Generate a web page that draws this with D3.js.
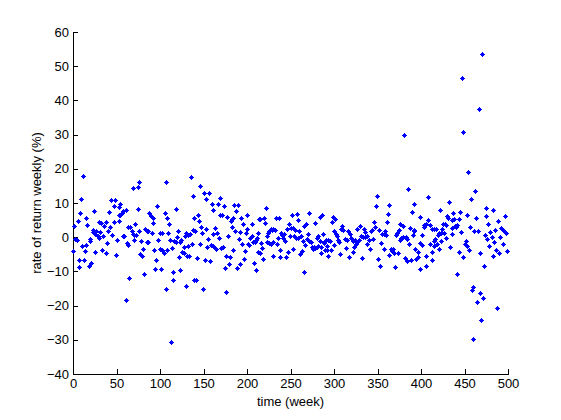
<!DOCTYPE html>
<html><head><meta charset="utf-8">
<script src="https://cdn.jsdelivr.net/npm/d3@7"></script>
<style>
html,body{margin:0;padding:0;background:#fff;}
text{font-family:"Liberation Sans Narrow","Arial Narrow","Liberation Sans",Arial,sans-serif;}
</style></head>
<body>
<svg id="chart" width="561" height="420"></svg>
<script>
const xTicks = [0,50,100,150,200,250,300,350,400,450,500];
const yTicks = [-40,-30,-20,-10,0,10,20,30,40,50,60];
const xLabel = "time (week)";
const yLabel = "rate of return weekly (%)";

// weeks and weekly returns (%)
const weeks = [
11.5,9.5,8.4,6.1,1.1,2.7,5,0.4,10.3,15,15.3,16.4,14.1,7.3,13,7.3,18,21,19.5,19,22.5,23.3,24.5,25.6,25,27,29.8,31.3,28.7,29.5,32,33.3,34.8,36,38.2,38.3,39,40.5,41.7,42.4,43.6,45,47.4,47,48.5,50,49.3,52.8,53,54.3,52.4,54.3,56.7,58,60.4,57,58.8,63,62,63.5,64.6,61,
69.2,74.9,76,74.2,71.5,70.3,66,67.3,68.5,70.6,72.5,75.7,78.3,80.6,77.2,79.5,81.8,82.9,84.9,86.4,84.5,86.4,87.2,89.4,91.7,92,90.9,96.7,93,95.5,94.4,101.3,98.2,100.2,102,100.2,102.4,104.7,105.8,108.1,107,110.4,109.3,108.1,111.6,113.9,115,115,107,112.7,118.5,116.2,118.5,119.6,120.8,123,124.2,121.9,123,125.3,127.6,127.6,132.2,128.8,129.9,132.2,134.5,129.9,130.7,133.4,136.8,135.7,138,138.8,138.4,139.1,
143.7,144.8,140.3,142.6,141,149.5,146,150.6,156.3,152.9,147.1,152.9,148.3,146,151.7,157.5,155.2,154,158.6,160.9,163.2,164.3,159.7,160.9,166.6,168.9,173.5,160.9,163.2,165.5,167.8,168.9,171.2,170,172.4,175.8,180.4,174.7,179.2,175.8,177,178.1,181.5,182.7,183.8,182.7,183.8,185,189.6,187.3,186.1,188.4,190.7,191.9,191.9,193,194.2,195.3,196.4,197.6,198.7,199.9,199.9,201,202.2,203.3,205.6,205.6,206.8,209.1,207.9,210.2,211.4,212.5,212.5,213.6,
210.2,214.8,219.4,220.5,221.7,214.8,216,217.1,218.2,222.8,224,225.1,226.3,227.4,228.6,229.7,232,222.8,225.1,227.4,229.7,234.3,229.7,233.1,236.6,235.4,237.7,237.7,238.9,240,241.2,242.3,243.5,244.6,245.8,246.9,248,249.2,250.3,252.6,254.9,251.5,257.2,258.4,252.6,253.8,256.1,258.4,259.5,261.8,260.7,263,265.3,264.1,265.3,267.5,266.4,268.7,269.8,271,271,273.3,274.4,275.6,276.7,277.9,280.2,281.3,277.9,280.2,281.3,283.6,283.6,285.9,284.7,287,288.2,
284.7,288.2,290.5,292.8,295.1,291.6,289.3,291.6,296.2,292.8,298.5,300.8,297.4,299.7,299.7,302,303.1,304.2,305.4,306.5,307.7,308.8,310,312.3,314.6,313.4,315.7,318,316.9,319.2,321.5,323.8,326.1,328.4,322.7,325,321.5,326.1,329.5,330.6,332.9,335.2,337.5,331.8,334.1,335.2,337.5,339.8,340.9,342.1,343.2,344.4,345.5,346.7,349,347.8,351.3,350.1,352.4,353.6,354.7,357,358.1,357,359.3,360.4,361.6,362.7,362.7,
380,384.5,408.6,391.4,389.1,432.7,399.4,407.5,422.4,430.4,431.5,436.1,437.3,375.3,378.8,374.2,371.9,370.8,376.5,375.3,378.8,382.2,383.4,386.8,390.3,391.4,392.5,385.7,401.7,399.4,400.6,402.9,404,406.3,409.8,412.1,414.4,417.8,409.8,414.4,415.5,416.6,418.9,420.1,421.2,423.5,427,424.7,425.8,428.1,429.3,423.5,429.3,421.2,433.8,436.1,436.1,366.2,367.3,365,368.5,373.1,369.6,381.1,383.4,388,394.8,396,393.5,397.1,398.3,405.2,406.3,412.1,413.2,
470.5,447.6,467.1,448.7,454.5,462.5,457.9,445.3,453.3,463.6,438.5,444.2,439.6,441.9,440.7,446.4,456.8,461.3,465.9,452.2,451,453.3,455.6,444.2,448.7,441.9,468.2,472.8,460.2,459.1,468.2,471.7,464.8,487.7,469.4,460.2,475.1,483.1,496.9,475.1,477.4,488.9,474,476.3,479.7,482.1,485.4,478.6,484.3,486.6,490,483.1,491.2,492.3,494.6,495.8,498.1,494.6,499.2
];
const returns = [
17.9,11.1,7.1,4.6,3.2,-0.5,-0.9,-4.0,-2.7,-2.4,5.5,3.5,-4.0,-6.7,-6.7,-8.8,-8.5,-7.6,-1.1,-0.4,2.2,1.5,7.8,-4.3,1.0,1.7,4.5,1.6,0.3,-0.2,4.2,-3.6,0.3,3.4,-4.7,4.3,-1.8,1.7,7.3,3.1,10.8,0.5,4.4,9.1,10.8,-0.9,-5.3,4.6,8.7,9.6,6.4,6.5,7.0,7.6,7.9,0.3,0.3,2.9,-1.8,-2.4,-11.9,-18.5,
14.3,14.6,16.0,8.2,3.8,-0.9,2.9,1.8,1.0,0.7,0.5,1.7,-1.2,-3.5,-5.0,-5.6,-10.9,2.3,1.9,1.7,-1.5,-1.5,7.0,6.3,5.6,4.1,1.1,9.0,-3.8,-6.8,-9.4,-9.4,-0.9,1.1,1.3,-3.5,-3.8,-4.7,7.2,5.7,16.0,3.8,1.2,-3.8,-0.9,-3.2,-10.1,-12.6,-15.0,-30.7,8.2,-1.2,-1.5,0,1.7,-1.5,-0.9,-5.9,-9.7,-4.4,-4.7,-3.0,-2.7,0.3,1.1,0.7,0.8,-14.4,-5.6,-5.6,-2.1,17.5,12.0,5.5,2.0,-12.5,
6.4,4.6,1.7,-6.2,-12.6,-15.0,15.0,12.8,12.8,11.1,2.9,2.3,1.1,-2.1,-6.8,-7.0,-0.6,-3.0,-2.4,-2.7,-3.2,-3.5,9.7,7.9,9.7,11.4,9.0,0.8,2.6,1.1,-0.3,6.4,6.4,-3.2,-3.0,-5.6,-5.9,-9.1,-7.9,-16.1,5.8,0.3,4.6,5.2,5.5,2.9,-3.8,9.3,9.3,7.6,1.7,-9.1,-0.6,1.4,-7.9,5.5,-2.1,3.8,-6.5,-4.1,1.1,2.3,6.4,-2.1,-2.4,-0.3,0.3,3.8,-1.5,-1.5,-7.6,-9.7,-0.3,1.1,-4.4,5.2,
-0.9,5.2,5.5,4.1,8.4,-4.7,-1.8,-3.2,-6.5,0.3,1.1,1.7,2.0,2.3,2.0,2.3,2.0,-1.5,-1.8,-2.1,-1.5,-2.1,-5.6,5.5,5.5,-0.3,-3.8,-5.9,1.1,0.5,-0.1,0.8,-1.2,-5.9,2.3,-4.4,3.8,0.3,2.6,2.6,2.0,6.4,6.7,4.9,-3.5,0.3,-0.3,-0.3,1.7,0.3,-5.0,-4.1,-10.3,-1.2,3.2,3.8,-2.4,-0.6,0.8,7.0,-1.2,-1.5,-3.0,-3.5,-3.0,-3.2,-3.0,-2.7,4.1,-0.3,0.3,-1.2,5.8,6.4,-4.7,0.8,-1.8,
-3.0,-1.5,-0.9,-0.9,-1.2,-2.7,-3.8,-3.8,-3.8,-5.6,5.8,5.2,4.3,-2.4,1.7,0.8,0.3,-0.9,-1.5,-5.0,2.3,3.2,2.0,-0.6,-0.9,-3.2,1.7,0.8,-5.9,-0.3,-1.2,-0.9,-1.5,-0.9,-3.0,-2.1,-4.4,2.3,3.2,0.3,0,0,0.3,-6.2,2.3,1.4,-2.1,-0.9,-3.5,1.7,2.0,-0.6,4.3,2.9,12.0,9.0,2.0,-6.5,-8.5,-1.8,0.8,0.8,1.7,-3.5,0.5,4.3,6.7,9.3,-5.3,
29.8,14.0,11.7,9.6,7.3,10.2,5.8,4.9,7.9,6.1,5.5,4.9,7.0,3.8,3.2,2.0,1.1,0.5,-0.3,-0.9,0,0,-0.6,2.6,0.5,1.7,2.0,-2.1,0.5,-1.8,-2.4,2.9,3.5,3.8,3.5,2.3,2.3,2.3,-2.1,-2.7,-1.2,-0.6,-2.1,0.5,1.1,1.1,1.1,2.3,3.8,3.8,3.5,-1.2,-0.3,-3.5,-3.0,0.8,2.6,-4.1,-3.5,-3.5,-4.7,-4.7,-8.8,-6.2,-7.0,-6.8,-6.5,-5.9,-3.5,-4.4,-9.4,-8.5,-5.6,-4.4,-6.8,
53.5,46.5,37.4,30.7,19.0,13.4,11.1,7.3,6.4,5.5,5.2,5.2,3.2,3.5,2.9,1.4,2.9,1.7,1.7,-1.2,-2.1,-2.7,-3.8,-4.4,-5.9,-10.8,-4.7,-8.5,-14.7,-15.5,-16.4,-17.9,-19.0,-20.8,-24.3,-29.9,8.4,7.9,6.1,6.1,3.8,4.6,0.5,-0.6,1.4,0,2.0,-2.7,-1.5,-3.8,-4.7,-5.6,0,2.6,2.0,1.7,1.1,-2.1,-4.1
];

const svg = d3.select("#chart");
const x = d3.scaleLinear().domain([0,500]).range([73,508]);
const y = d3.scaleLinear().domain([-40,60]).range([374,32]);

const fs = 13;
const gx = svg.append("g").attr("transform","translate(0,374)")
  .call(d3.axisBottom(x).tickValues(xTicks).tickFormat(d3.format("d")).tickSizeInner(-5).tickSizeOuter(0).tickPadding(5));
const gy = svg.append("g").attr("transform","translate(73,0)")
  .call(d3.axisLeft(y).tickValues(yTicks).tickFormat(d3.format("d")).tickSizeInner(-5).tickSizeOuter(0).tickPadding(4));
[gx,gy].forEach(g=>{
  g.selectAll("text").attr("font-size",fs).attr("fill","#000")
   .style("font-family",'"Liberation Sans Narrow","Arial Narrow","Liberation Sans",Arial,sans-serif');
  g.selectAll("line").attr("stroke","#000").attr("shape-rendering","crispEdges");
  g.select(".domain").attr("stroke","#000").attr("shape-rendering","crispEdges");
});

svg.append("text").attr("x",(73+508)/2).attr("y",406).attr("text-anchor","middle")
  .attr("font-size",fs).text(xLabel);
svg.append("text").attr("transform","translate(41,"+((32+374)/2)+") rotate(-90)")
  .attr("text-anchor","middle").attr("font-size",fs).text(yLabel);

// small filled diamond marker (pixel rows 1-3-5-3-1)
const marker = "M-0.5,-2.5H0.5V-1.5H1.5V-0.5H2.5V0.5H1.5V1.5H0.5V2.5H-0.5V1.5H-1.5V0.5H-2.5V-0.5H-1.5V-1.5H-0.5Z";
svg.append("g").attr("shape-rendering","crispEdges")
  .selectAll("path").data(weeks.map((w,i)=>[w,returns[i]])).join("path")
  .attr("d",marker)
  .attr("transform",d=>"translate("+(Math.round(x(d[0]))+0.5)+","+(Math.round(y(d[1]))+0.5)+")")
  .attr("fill","#0000ff");
</script>
</body></html>
